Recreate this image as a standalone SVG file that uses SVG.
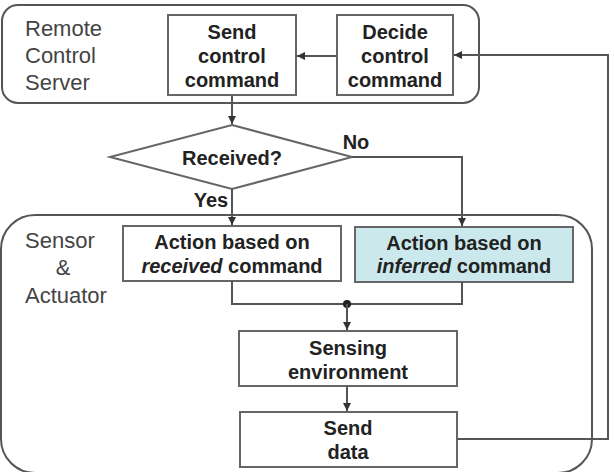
<svg xmlns="http://www.w3.org/2000/svg" width="614" height="472" viewBox="0 0 614 472">
<defs>
<style>
.cont{fill:#fff;stroke:#555;stroke-width:2}
.box{fill:#fff;stroke:#666;stroke-width:2}
.hl{fill:#cbe9ec}
.lab{font-family:"Liberation Sans",Arial,sans-serif;font-size:22px;fill:#444}
.t{font-family:"Liberation Sans",Arial,sans-serif;font-size:20px;font-weight:bold;fill:#222;text-anchor:middle}
.it{font-style:italic}
.ln{fill:none;stroke:#555;stroke-width:2}
</style>
<marker id="ah" viewBox="0 0 10 10" refX="10" refY="5" markerWidth="4" markerHeight="4" orient="auto" markerUnits="strokeWidth">
<path d="M0,0 L10,5 L0,10 z" fill="#333"/>
</marker>
</defs>
<rect width="614" height="472" fill="#fff"/>
<g id="server-container">
<rect class="cont" x="2" y="5" width="477" height="98" rx="16"/>
<text class="lab" x="25" y="36">Remote</text>
<text class="lab" x="25" y="63">Control</text>
<text class="lab" x="25" y="90">Server</text>
</g>
<g id="sensor-container">
<rect class="cont" x="1" y="215" width="591" height="258" rx="34"/>
<text class="lab" x="25" y="248">Sensor</text>
<text class="lab" x="63" y="275" text-anchor="middle">&amp;</text>
<text class="lab" x="25" y="303">Actuator</text>
</g>
<g id="send-control">
<rect class="box" x="168" y="15" width="128" height="80"/>
<text class="t" x="232" y="39">Send</text>
<text class="t" x="232" y="63">control</text>
<text class="t" x="232" y="87">command</text>
</g>
<g id="decide-control">
<rect class="box" x="337" y="15" width="116" height="80"/>
<text class="t" x="395" y="39">Decide</text>
<text class="t" x="395" y="63">control</text>
<text class="t" x="395" y="87">command</text>
</g>
<g id="received">
<polygon class="box" points="232,125 352,157 232,189 110,157"/>
<text class="t" x="232" y="165">Received?</text>
</g>
<g id="action-received">
<rect class="box" x="123" y="226" width="218" height="55"/>
<text class="t" x="232" y="249">Action based on</text>
<text class="t" x="232" y="273"><tspan class="it">received</tspan> command</text>
</g>
<g id="action-inferred">
<rect class="box hl" x="355" y="227" width="218" height="55"/>
<text class="t" x="464" y="250">Action based on</text>
<text class="t" x="464" y="273"><tspan class="it">inferred</tspan> command</text>
</g>
<g id="sensing">
<rect class="box" x="239" y="331" width="218" height="55"/>
<text class="t" x="348" y="355">Sensing</text>
<text class="t" x="348" y="379">environment</text>
</g>
<g id="send-data">
<rect class="box" x="240" y="412" width="217" height="55"/>
<text class="t" x="348" y="435">Send</text>
<text class="t" x="348" y="459">data</text>
</g>
<g id="connectors">
<path class="ln" d="M337,56 H297" marker-end="url(#ah)"/>
<path class="ln" d="M232,95 V124" marker-end="url(#ah)"/>
<path class="ln" d="M352,157 H462 V226" marker-end="url(#ah)"/>
<path class="ln" d="M232,189 V225" marker-end="url(#ah)"/>
<path class="ln" d="M232,281 V304 H462 V282"/>
<circle cx="347" cy="304" r="4" fill="#222"/>
<path class="ln" d="M347,304 V330" marker-end="url(#ah)"/>
<path class="ln" d="M347,386 V411" marker-end="url(#ah)"/>
<path class="ln" d="M457,439 H608 V55 H454" marker-end="url(#ah)"/>
<text class="t" x="356" y="149">No</text>
<text class="t" x="211" y="207">Yes</text>
</g>
</svg>
